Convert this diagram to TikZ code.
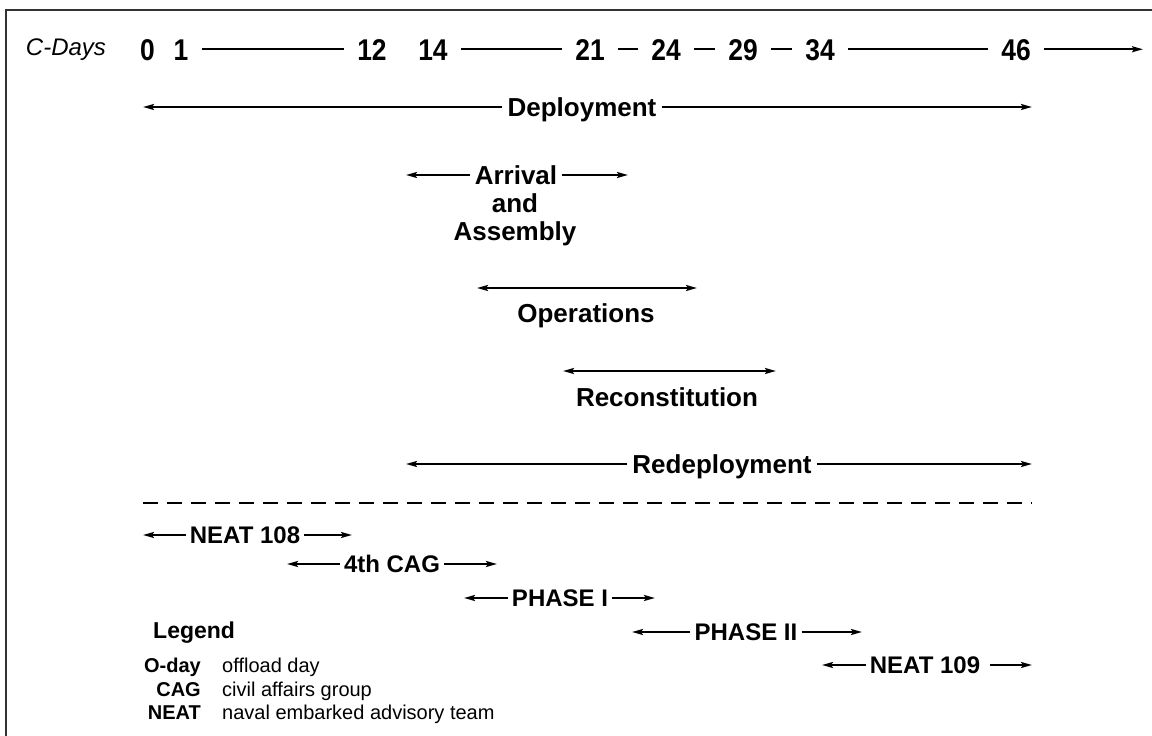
\documentclass[tikz,border=0pt]{standalone}
\usepackage{fontspec}
\setmainfont{Liberation Sans}
\newfontfamily\daysfont[FakeStretch=0.88]{Liberation Sans}
\usetikzlibrary{arrows.meta}
\begin{document}
\begin{tikzpicture}[x=1pt,y=-1pt,
  tip/.style={-{Stealth[length=11pt,width=6pt,inset=2pt]}},
  rule/.style={line width=2pt},
  arr/.style={rule,tip},
  span/.style={rule,{Stealth[length=11pt,width=6pt,inset=2pt]}-{Stealth[length=11pt,width=6pt,inset=2pt]}},
  day/.style={font=\daysfont\bfseries\fontsize{30}{30}\selectfont,
    inner xsep=13pt, inner ysep=0pt, text height=21.5pt, text depth=0pt, anchor=base},
  lbl/.style={font=\bfseries\fontsize{26}{28}\selectfont,
    inner xsep=5pt, inner ysep=0pt, text height=18.7pt, text depth=0pt},
  sub/.style={font=\bfseries\fontsize{24}{26}\selectfont,
    inner xsep=4pt, inner ysep=0pt, text height=17.2pt, text depth=0pt},
  key/.style={font=\bfseries\fontsize{20}{22}\selectfont, inner sep=0pt, anchor=base east},
  desc/.style={font=\fontsize{20}{22}\selectfont, inner sep=0pt, anchor=base west}]
\useasboundingbox (0,0) rectangle (1152,736);

% frame
\draw[line width=2pt, black!80] (6,736) -- (6,10) -- (1152,10);

% C-day scale
\node[font=\itshape\fontsize{24}{24}\selectfont, inner sep=0pt, anchor=base] (cdays) at (66,55) {C-Days};
\node[day] (d0)  at (147.5,60) {0};
\node[day] (d1)  at (181,60)   {1};
\node[day] (d12) at (372,60)   {12};
\node[day] (d14) at (433,60)   {14};
\node[day] (d21) at (590,60)   {21};
\node[day] (d24) at (666,60)   {24};
\node[day] (d29) at (743,60)   {29};
\node[day] (d34) at (820,60)   {34};
\node[day] (d46) at (1016,60)  {46};
\coordinate (dend) at (1143,49);
\draw[rule] (d1) -- (d12);
\draw[rule] (d14) -- (d21);
\draw[rule] (d21) -- (d24);
\draw[rule] (d24) -- (d29);
\draw[rule] (d29) -- (d34);
\draw[rule] (d34) -- (d46);
\draw[arr] (d46.east) -- (d46.east -| dend);

% Deployment
\node[lbl] (dep) at (582,107) {Deployment};
\coordinate (depL) at (143,107);
\coordinate (depR) at (1032,107);
\draw[arr] (dep) -- (depL);
\draw[arr] (dep) -- (depR);

% Arrival and Assembly
\node[lbl] (arv) at (516,175) {Arrival};
\node[lbl, anchor=base] (and) at (515,212) {and};
\node[lbl, anchor=base] (asm) at (515,240) {Assembly};
\coordinate (arvL) at (406,175);
\coordinate (arvR) at (628,175);
\draw[arr] (arv) -- (arvL);
\draw[arr] (arv) -- (arvR);

% Operations
\coordinate (opsL) at (477,288);
\coordinate (opsR) at (697,288);
\draw[span] (opsL) -- (opsR);
\node[lbl, anchor=base] (ops) at (586,322) {Operations};

% Reconstitution
\coordinate (recL) at (563,371);
\coordinate (recR) at (776,371);
\draw[span] (recL) -- (recR);
\node[lbl, anchor=base] (rec) at (667,406) {Reconstitution};

% Redeployment
\node[lbl] (red) at (722,464) {Redeployment};
\coordinate (redL) at (406,464);
\coordinate (redR) at (1032,464);
\draw[arr] (red) -- (redL);
\draw[arr] (red) -- (redR);

% divider
\coordinate (divL) at (143,503);
\coordinate (divR) at (1032,503);
\draw[line width=2pt, dash pattern=on 15pt off 9pt] (divL) -- (divR);

% teams and phases
\node[sub] (n108) at (245,535) {NEAT 108};
\coordinate (n108L) at (143,535);
\coordinate (n108R) at (352,535);
\draw[arr] (n108) -- (n108L);
\draw[arr] (n108) -- (n108R);

\node[sub] (cag) at (392,564) {4th CAG};
\coordinate (cagL) at (287,564);
\coordinate (cagR) at (497,564);
\draw[arr] (cag) -- (cagL);
\draw[arr] (cag) -- (cagR);

\node[sub] (ph1) at (560,598) {PHASE I};
\coordinate (ph1L) at (464,598);
\coordinate (ph1R) at (655,598);
\draw[arr] (ph1) -- (ph1L);
\draw[arr] (ph1) -- (ph1R);

\node[sub] (ph2) at (746,632) {PHASE II};
\coordinate (ph2L) at (632,632);
\coordinate (ph2R) at (862,632);
\draw[arr] (ph2) -- (ph2L);
\draw[arr] (ph2) -- (ph2R);

\node[sub] (n109) at (925,665) {NEAT 109};
\coordinate (n109L) at (822,665);
\coordinate (n109R) at (1032,665);
\draw[arr] (n109) -- (n109L);
\draw[arr] ([xshift=6pt]n109.east) -- (n109R);

% legend
\node[font=\bfseries\fontsize{23}{24}\selectfont, inner sep=0pt, anchor=base west] (leg) at (153,638) {Legend};
\node[key]  (k1) at (201,672) {O-day};
\node[desc] (v1) at (222,672) {offload day};
\node[key]  (k2) at (201,696) {CAG};
\node[desc] (v2) at (222,696) {civil affairs group};
\node[key]  (k3) at (201,719) {NEAT};
\node[desc] (v3) at (222,719) {naval embarked advisory team};
\end{tikzpicture}
\end{document}
